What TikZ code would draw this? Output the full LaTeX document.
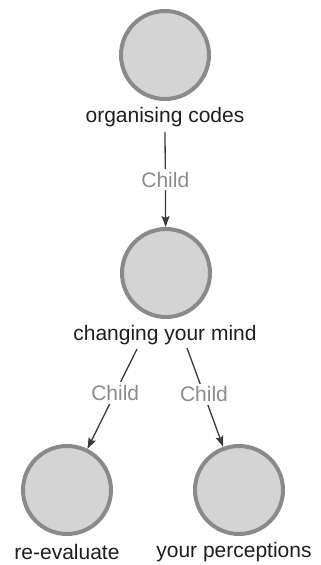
\documentclass[tikz,border=0pt]{standalone}
\usepackage{fontspec}
\setmainfont{Liberation Sans}
\usepackage{xcolor}
\usetikzlibrary{arrows.meta,positioning}

\definecolor{ringgray}{HTML}{8A8A8A}
\definecolor{fillgray}{HTML}{D4D4D4}
\definecolor{edgegray}{HTML}{3A3A3A}
\definecolor{relgray}{HTML}{8C8C8C}
\definecolor{textgray}{HTML}{1E1E1E}

\begin{document}
\begin{tikzpicture}[
      x=1pt, y=-1pt,
      >={Stealth[length=11pt,width=8pt,inset=2pt]},
      font=\fontsize{21}{24}\selectfont,
      concept/.style={circle, draw=ringgray, line width=4pt, fill=fillgray,
      minimum size=88pt, inner sep=0pt},
      caption/.style={text=textgray, inner sep=0pt},
      relation/.style={->, draw=edgegray, line width=1.3pt},
      rellabel/.style={fill=white, text=relgray, inner sep=3pt}
    ]
    \useasboundingbox (0,0) rectangle (321,565);

    \node[concept] (organising) at (165,55) {};
    \node[caption] (organisingtext) at (165,117) {organising codes};
    \node[concept] (mind) at (166,273) {};
    \node[caption] (mindtext) at (165,335) {changing your mind};
    \node[concept] (reevaluate) at (67,490) {};
    \node[caption] (reevaluatetext) at (67,552) {re-evaluate};
    \node[concept] (perceptions) at (239,490) {};
    \node[caption] (perceptionstext) at (234,552) {your perceptions};

    \coordinate (mindleft) at ([xshift=-28pt,yshift=-4pt]mindtext.south);
    \coordinate (mindright) at ([xshift=22pt,yshift=-3pt]mindtext.south);

    \draw[relation] ([yshift=-5pt]organisingtext.south) -- node[rellabel] {Child}
    (mind);
    \draw[relation] (mindleft) -- node[rellabel, pos=0.44] {Child} (reevaluate);
    \draw[relation] (mindright) -- node[rellabel, pos=0.47] {Child}
    (perceptions);
  \end{tikzpicture}
\end{document}
